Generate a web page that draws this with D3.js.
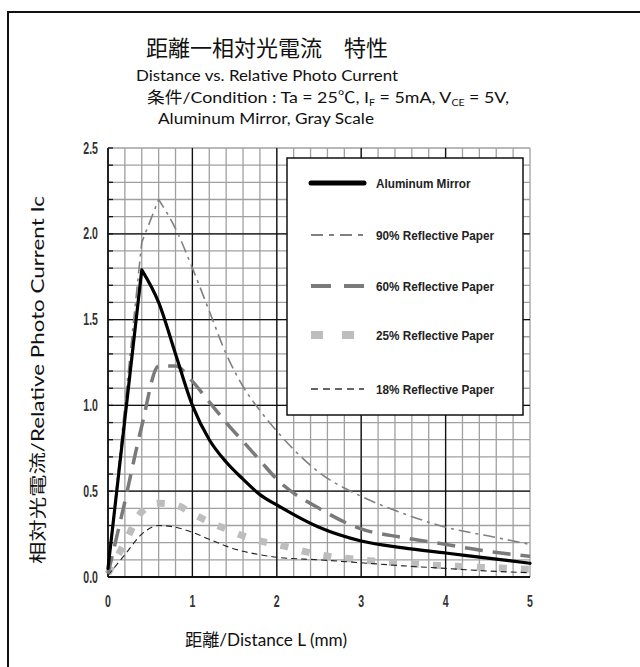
<!DOCTYPE html>
<html><head><meta charset="utf-8">
<script src="https://cdn.jsdelivr.net/npm/d3@7"></script>
<style>body{margin:0;background:#fff}</style>
</head><body><svg id="c" width="640" height="667"></svg>
<script>
const distance = [0, 0.2, 0.4, 0.6, 0.8, 1.0, 1.2, 1.4, 1.6, 1.8, 2.0, 2.5, 3.0, 3.5, 4.0, 4.5, 5.0];
const aluminum = [0.05, 0.92, 1.79, 1.6, 1.3, 1.0, 0.8, 0.67, 0.57, 0.48, 0.42, 0.29, 0.21, 0.17, 0.14, 0.11, 0.08];
const paper90  = [0.03, 1.0, 1.95, 2.2, 2.03, 1.8, 1.55, 1.3, 1.11, 0.97, 0.85, 0.61, 0.47, 0.37, 0.29, 0.24, 0.19];
const paper60  = [0.02, 0.44, 0.88, 1.23, 1.23, 1.14, 1.02, 0.9, 0.79, 0.68, 0.57, 0.4, 0.28, 0.23, 0.19, 0.15, 0.12];
const paper25  = [0.02, 0.2, 0.38, 0.43, 0.42, 0.37, 0.32, 0.28, 0.24, 0.21, 0.19, 0.13, 0.1, 0.08, 0.065, 0.055, 0.045];
const paper18  = [0.01, 0.13, 0.25, 0.3, 0.29, 0.26, 0.22, 0.18, 0.15, 0.13, 0.115, 0.1, 0.083, 0.065, 0.05, 0.035, 0.025];
const seriesNames = ["Aluminum Mirror", "90% Reflective Paper", "60% Reflective Paper", "25% Reflective Paper", "18% Reflective Paper"];
const xTicks = [0, 1, 2, 3, 4, 5];
const yTicks = [0.0, 0.5, 1.0, 1.5, 2.0, 2.5];

const svg = d3.select("#c");
const x = d3.scaleLinear().domain([0, 5]).range([108, 530]);
const y = d3.scaleLinear().domain([0, 2.5]).range([577, 148]);

// frame
svg.append("path").attr("d", "M8,667V12H640").attr("fill", "none").attr("stroke", "#111").attr("stroke-width", 2);

// titles
const latin = "Lato, 'Open Sans', sans-serif";
const cjk = "'Noto Sans CJK JP'";
svg.append("text").attr("x", 267).attr("y", 56).attr("text-anchor", "middle")
  .attr("font-family", cjk).attr("font-size", 22).attr("fill", "#111")
  .text("距離一相対光電流　特性");
svg.append("text").attr("x", 267).attr("y", 81).attr("text-anchor", "middle")
  .attr("font-family", latin).attr("font-size", 16).attr("fill", "#111")
  .attr("textLength", 262).attr("lengthAdjust", "spacingAndGlyphs")
  .text("Distance vs. Relative Photo Current");
const cond = svg.append("text").attr("x", 147).attr("y", 103)
  .attr("font-family", latin).attr("font-size", 16).attr("fill", "#111");
cond.append("tspan").attr("font-family", cjk).text("条件");
cond.append("tspan").text("/Condition : Ta = 25");
cond.append("tspan").attr("font-family", cjk).text("℃");
cond.append("tspan").text(", I");
cond.append("tspan").attr("font-size", 9.5).attr("dy", 3).text("F");
cond.append("tspan").attr("dy", -3).text(" = 5mA, V");
cond.append("tspan").attr("font-size", 9.5).attr("dy", 3).text("CE");
cond.append("tspan").attr("dy", -3).text(" = 5V,");
cond.attr("textLength", 362).attr("lengthAdjust", "spacingAndGlyphs");
svg.append("text").attr("x", 158).attr("y", 124)
  .attr("font-family", latin).attr("font-size", 16).attr("fill", "#111")
  .attr("textLength", 216).attr("lengthAdjust", "spacingAndGlyphs")
  .text("Aluminum Mirror, Gray Scale");

// grid
const g = svg.append("g");
const xMinor = d3.range(0, 5.0001, 0.2);
const yMinor = d3.range(0, 2.5001, 0.1);
g.selectAll(".vx").data(xMinor).enter().append("line")
  .attr("x1", d => x(d)).attr("x2", d => x(d)).attr("y1", y(0)).attr("y2", y(2.5))
  .attr("stroke", "#a0a0a0").attr("stroke-width", 1.3);
g.selectAll(".hy").data(yMinor).enter().append("line")
  .attr("y1", d => y(d)).attr("y2", d => y(d)).attr("x1", x(0)).attr("x2", x(5))
  .attr("stroke", "#a0a0a0").attr("stroke-width", 1.3);
g.selectAll(".mx").data([1, 2, 3, 4]).enter().append("line")
  .attr("x1", d => x(d)).attr("x2", d => x(d)).attr("y1", y(0)).attr("y2", y(2.5))
  .attr("stroke", "#111").attr("stroke-width", 1.3);
g.selectAll(".my").data([0.5, 1.0, 1.5, 2.0]).enter().append("line")
  .attr("y1", d => y(d)).attr("y2", d => y(d)).attr("x1", x(0)).attr("x2", x(5))
  .attr("stroke", "#111").attr("stroke-width", 1.3);
g.selectAll(".tk").data(yMinor).enter().append("line")
  .attr("y1", d => y(d)).attr("y2", d => y(d)).attr("x1", x(0)).attr("x2", x(0) + 5)
  .attr("stroke", "#111").attr("stroke-width", 1.3);
g.append("line").attr("x1", x(0)).attr("x2", x(0)).attr("y1", y(0)).attr("y2", y(2.5)).attr("stroke", "#111").attr("stroke-width", 1.8);
g.append("line").attr("x1", x(0)).attr("x2", x(5)).attr("y1", y(0)).attr("y2", y(0)).attr("stroke", "#111").attr("stroke-width", 1.8);

// condensed text helper
const narrow = "'Liberation Sans', Arial, sans-serif";
function condText(px, py, str, size, anchor, sx) {
  return svg.append("text")
    .attr("transform", `translate(${px},${py}) scale(${sx},1)`)
    .attr("text-anchor", anchor)
    .attr("font-family", narrow).attr("font-weight", "bold").attr("font-size", size)
    .attr("fill", "#333").text(str);
}
yTicks.forEach(d => condText(98, y(d) + 5.5, d.toFixed(1), 16, "end", 0.66));
xTicks.forEach(d => condText(x(d), 607, String(d), 16, "middle", 0.66));

// axis titles
const xt = svg.append("text").attr("x", 266).attr("y", 646).attr("text-anchor", "middle")
  .attr("font-family", latin).attr("font-size", 17).attr("fill", "#111")
  .attr("textLength", 162).attr("lengthAdjust", "spacingAndGlyphs");
xt.append("tspan").attr("font-family", cjk).text("距離");
xt.append("tspan").text("/Distance L (mm)");
const yt = svg.append("text").attr("transform", "translate(44,380) rotate(-90)").attr("text-anchor", "middle")
  .attr("font-family", latin).attr("font-size", 17).attr("fill", "#111")
  .attr("textLength", 368).attr("lengthAdjust", "spacingAndGlyphs");
yt.append("tspan").attr("font-family", cjk).text("相対光電流");
yt.append("tspan").text("/Relative Photo Current Ic");

// series
const styles = [
  {color: "#000", width: 3.2, dash: null, cap: "round", sharp: true},
  {color: "#808080", width: 1.6, dash: "12,5,3,5", cap: "butt", sharp: true},
  {color: "#7a7a7a", width: 3.5, dash: "18,10", cap: "butt", sharp: false},
  {color: "#bdbdbd", width: 7, dash: "8,14", cap: "butt", sharp: false},
  {color: "#222", width: 1.1, dash: "6,4", cap: "butt", sharp: false}
];
const seriesData = [aluminum, paper90, paper60, paper25, paper18];
const lineLin = d3.line().x(d => x(d[0])).y(d => y(d[1])).curve(d3.curveLinear);
const lineMono = d3.line().x(d => x(d[0])).y(d => y(d[1])).curve(d3.curveMonotoneX);
[3, 4, 2, 1, 0].forEach(i => {
  const pts = distance.map((d, k) => [d, seriesData[i][k]]);
  const s = styles[i];
  let dStr;
  if (s.sharp) {
    const pk = d3.maxIndex(seriesData[i]);
    const rise = lineLin(pts.slice(0, pk + 1));
    const fall = lineMono(pts.slice(pk)).replace(/^M[^A-Za-z]*/, "");
    dStr = rise + fall;
  } else {
    dStr = lineMono(pts);
  }
  svg.append("path").attr("d", dStr).attr("fill", "none")
    .attr("stroke", s.color).attr("stroke-width", s.width)
    .attr("stroke-dasharray", s.dash).attr("stroke-linecap", s.cap).attr("stroke-linejoin", "round");
});

// legend
svg.append("rect").attr("x", 287).attr("y", 158).attr("width", 236).attr("height", 257)
  .attr("fill", "#fff").attr("stroke", "#111").attr("stroke-width", 1.5);
const ly = [183, 235, 286, 335, 389];
const legStyles = [
  {color: "#000", width: 5, dash: null, cap: "round"},
  {color: "#808080", width: 2, dash: "12,6,5,6", cap: "butt"},
  {color: "#7a7a7a", width: 4, dash: "20,13", cap: "butt"},
  {color: "#bdbdbd", width: 8, dash: "12,19", cap: "butt"},
  {color: "#333", width: 1.3, dash: "7,5", cap: "butt"}
];
seriesNames.forEach((n, i) => {
  const s = legStyles[i];
  svg.append("line").attr("x1", 311).attr("x2", 364).attr("y1", ly[i]).attr("y2", ly[i])
    .attr("stroke", s.color).attr("stroke-width", s.width).attr("stroke-dasharray", s.dash).attr("stroke-linecap", s.cap);
  condText(376, ly[i] + 5, n, 13.5, "start", 0.87).attr("fill", "#222");
});
</script></body></html>
